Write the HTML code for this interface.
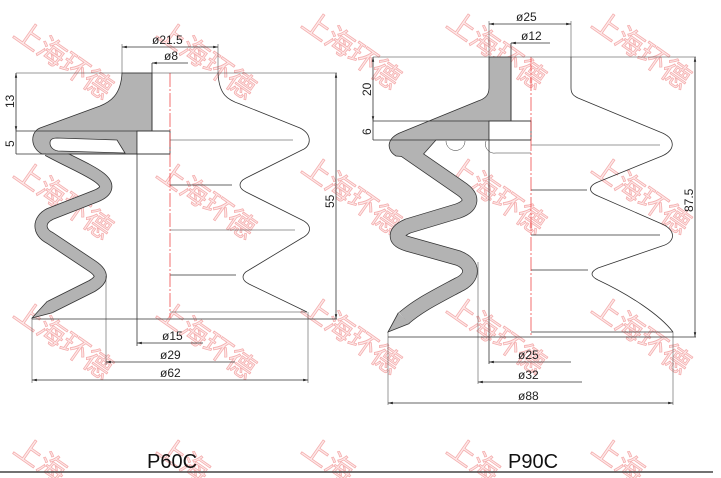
<!DOCTYPE html>
<html><head><meta charset="utf-8"><style>
html,body{margin:0;padding:0;background:#fff;width:721px;height:478px;overflow:hidden}
svg{display:block}
.d{stroke:#333;stroke-width:0.8;fill:none}
.t{font-family:"Liberation Sans",sans-serif;font-size:12px;fill:#222}
.w{font-family:"Liberation Sans","Noto Sans CJK SC",sans-serif;font-size:28px;fill:#fde6e6;stroke:#f3a0a0;stroke-width:0.8;opacity:0.85}
.wo{fill:none;stroke:#333;stroke-linejoin:round}
.wi{fill:none;stroke:#b3b3b3;stroke-linejoin:round}
</style></head><body>
<svg width="721" height="478" viewBox="0 0 721 478" xmlns="http://www.w3.org/2000/svg" overflow="hidden">
<defs>
<marker id="a" viewBox="0 0 6 6" refX="6" refY="3" markerWidth="6" markerHeight="6" orient="auto-start-reverse"><path d="M0,1.5 L6,3 L0,4.5z" fill="#222"/></marker>
</defs>

<g>
<text class="w" transform="translate(12,36) rotate(35)">上海环德</text>
<text class="w" transform="translate(155,36) rotate(35)">上海环德</text>
<text class="w" transform="translate(300,26) rotate(35)">上海环德</text>
<text class="w" transform="translate(445,26) rotate(35)">上海环德</text>
<text class="w" transform="translate(590,26) rotate(35)">上海环德</text>
<text class="w" transform="translate(12,176) rotate(35)">上海环德</text>
<text class="w" transform="translate(155,176) rotate(35)">上海环德</text>
<text class="w" transform="translate(300,171) rotate(35)">上海环德</text>
<text class="w" transform="translate(445,171) rotate(35)">上海环德</text>
<text class="w" transform="translate(590,171) rotate(35)">上海环德</text>
<text class="w" transform="translate(12,316) rotate(35)">上海环德</text>
<text class="w" transform="translate(155,316) rotate(35)">上海环德</text>
<text class="w" transform="translate(300,311) rotate(35)">上海环德</text>
<text class="w" transform="translate(445,311) rotate(35)">上海环德</text>
<text class="w" transform="translate(590,311) rotate(35)">上海环德</text>
<text class="w" transform="translate(12,452) rotate(35)">上海</text>
<text class="w" transform="translate(155,452) rotate(35)">上海</text>
<text class="w" transform="translate(300,452) rotate(35)">上海</text>
<text class="w" transform="translate(445,452) rotate(35)">上海</text>
<text class="w" transform="translate(590,452) rotate(35)">上海</text>
</g>

<!-- ================= P60C ================= -->
<path class="wo" stroke-width="13" d="M48,150 C70,162 90,170 100,178 C110,186 106,192 96,196 L50,214 C38,220 38,232 50,238 L92,266 C104,274 102,280 92,286 L50,307"/>
<path fill="#b3b3b3" stroke="#333" stroke-width="0.8" d="M122,73 C121,95 110,102 100,106 L40,128 C30,132 30,148 42,154 L137,154 L137,131 L152,131 L152,73 Z"/>
<path class="wi" stroke-width="11.4" d="M48,150 C70,162 90,170 100,178 C110,186 106,192 96,196 L50,214 C38,220 38,232 50,238 L92,266 C104,274 102,280 92,286 L50,307"/>
<path fill="#b3b3b3" stroke="none" d="M47.2,301.4 L32,318 L52.8,312.6 L51,306 Z"/>
<path class="d" d="M47.2,301.4 L32,318 L52.8,312.6"/>
<path fill="#fff" stroke="#333" stroke-width="0.8" d="M50,143 C50,139 53,138 57,138 L117,140 L125,153 L58,151 C53,150 50,147 50,143 Z"/>
<rect x="137" y="131" width="33" height="23" fill="#fff" stroke="#333" stroke-width="0.8"/>
<path class="d" d="M218,73 C219,95 228,100 240,104 L300,128 C312,134 312,146 302,150 L246,178 C238,182 238,188 246,192 L302,220 C312,225 312,233 302,238 L249,270 C241,274 241,280 249,284 L307,312"/>
<line class="d" x1="170" y1="140" x2="293" y2="140" style="stroke-width:0.5"/>
<line class="d" x1="170" y1="185" x2="232" y2="185"/>
<line class="d" x1="170" y1="230" x2="295" y2="230" style="stroke-width:0.5"/>
<line class="d" x1="170" y1="275" x2="236" y2="275"/>
<line class="d" x1="170" y1="312" x2="307" y2="312" style="stroke-width:0.5"/>
<line x1="170" y1="73" x2="170" y2="318" stroke="#e33" stroke-width="0.7" stroke-dasharray="14,2,2,2"/>
<line class="d" x1="16" y1="73" x2="337" y2="73" style="stroke-width:0.5"/>
<line class="d" x1="16" y1="131" x2="170" y2="131"/>
<line class="d" x1="16" y1="154" x2="170" y2="154"/>
<line class="d" x1="32" y1="319" x2="337" y2="319"/>
<line class="d" x1="122" y1="44" x2="122" y2="73" style="stroke-width:0.5"/>
<line class="d" x1="218" y1="44" x2="218" y2="73" style="stroke-width:0.5"/>
<line class="d" x1="152" y1="63" x2="152" y2="131"/>
<line class="d" x1="137" y1="154" x2="137" y2="346"/>
<line class="d" x1="106" y1="276" x2="106" y2="365" style="stroke-width:0.5"/>
<line class="d" x1="32" y1="319" x2="32" y2="383" style="stroke-width:0.5"/>
<line class="d" x1="308" y1="312" x2="308" y2="383" style="stroke-width:0.5"/>
<line class="d" x1="122" y1="47" x2="218" y2="47" marker-start="url(#a)" marker-end="url(#a)"/>
<text class="t" x="152" y="44">ø21.5</text>
<line class="d" x1="152" y1="63" x2="188" y2="63" marker-start="url(#a)"/>
<text class="t" x="164" y="60">ø8</text>
<line class="d" x1="16" y1="73" x2="16" y2="131" marker-start="url(#a)" marker-end="url(#a)"/>
<text class="t" transform="translate(14,108) rotate(-90)">13</text>
<line class="d" x1="16" y1="131" x2="16" y2="154"/>
<text class="t" transform="translate(14,147) rotate(-90)">5</text>
<line class="d" x1="336" y1="73" x2="336" y2="319" marker-start="url(#a)" marker-end="url(#a)"/>
<text class="t" transform="translate(334,208) rotate(-90)">55</text>
<line class="d" x1="137" y1="343" x2="203" y2="343" marker-start="url(#a)"/>
<text class="t" x="162" y="340">ø15</text>
<line class="d" x1="106" y1="362" x2="235" y2="362" marker-start="url(#a)"/>
<text class="t" x="160" y="359">ø29</text>
<line class="d" x1="32" y1="380" x2="308" y2="380" marker-start="url(#a)" marker-end="url(#a)"/>
<text class="t" x="160" y="377">ø62</text>

<!-- ================= P90C ================= -->
<path class="wo" stroke-width="15.5" d="M405,150 L460,188 C474,197 472,206 458,211 L408,226 C394,232 394,240 408,244 L458,258 C474,264 474,278 458,285 C430,300 418,306 404,318"/>
<path fill="#b3b3b3" stroke="#333" stroke-width="0.8" d="M489,57 L489,88 C489,96 484,99 478,101 L402,132 C386,138 386,150 396,156 L420,158 L436,140 L489,140 L489,121 L511,121 L511,57 Z"/>
<path class="wi" stroke-width="14" d="M405,150 L460,188 C474,197 472,206 458,211 L408,226 C394,232 394,240 408,244 L458,258 C474,264 474,278 458,285 C430,300 418,306 404,318"/>
<path fill="#b3b3b3" stroke="none" d="M398.5,312.5 L388,332 L409.5,323.5 L404,318 Z"/>
<path class="d" d="M398.5,312.5 L388,332 L409.5,323.5"/>
<rect x="489" y="121" width="42" height="19" fill="#fff" stroke="#333" stroke-width="0.8"/>
<path class="d" d="M446,141 A9,9 0 0 0 465,141 M486,141 A9,9 0 0 0 496,153 L531,153" style="stroke-width:0.5"/>
<path class="d" d="M571,57 L571,88 C571,94 574,96 578,98 L660,132 C676,138 676,150 662,156 L598,182 C588,186 588,192 598,196 L662,224 C676,230 676,242 662,246 L598,268 C590,272 590,276 598,280 C630,295 660,315 673,332"/>
<line class="d" x1="531" y1="145" x2="660" y2="145" style="stroke-width:0.5"/>
<line class="d" x1="531" y1="190" x2="587" y2="190"/>
<line class="d" x1="531" y1="235" x2="660" y2="235"/>
<line class="d" x1="531" y1="270" x2="588" y2="270"/>
<line class="d" x1="531" y1="332" x2="673" y2="332"/>
<line x1="531" y1="57" x2="531" y2="337" stroke="#e33" stroke-width="0.7" stroke-dasharray="14,2,2,2"/>
<line class="d" x1="373" y1="57" x2="696" y2="57" style="stroke-width:0.5"/>
<line class="d" x1="373" y1="121" x2="531" y2="121"/>
<line class="d" x1="373" y1="140" x2="531" y2="140"/>
<line class="d" x1="388" y1="337" x2="696" y2="337"/>
<line class="d" x1="489" y1="21" x2="489" y2="57" style="stroke-width:0.5"/>
<line class="d" x1="571" y1="21" x2="571" y2="57" style="stroke-width:0.5"/>
<line class="d" x1="511" y1="43" x2="511" y2="121"/>
<line class="d" x1="489" y1="140" x2="489" y2="364"/>
<line class="d" x1="478" y1="262" x2="478" y2="384" style="stroke-width:0.5"/>
<line class="d" x1="388" y1="332" x2="388" y2="405" style="stroke-width:0.5"/>
<line class="d" x1="673" y1="332" x2="673" y2="405" style="stroke-width:0.5"/>
<line class="d" x1="489" y1="24" x2="571" y2="24" marker-start="url(#a)" marker-end="url(#a)"/>
<text class="t" x="516" y="21">ø25</text>
<line class="d" x1="511" y1="43" x2="550" y2="43" marker-start="url(#a)"/>
<text class="t" x="521" y="40">ø12</text>
<line class="d" x1="373" y1="57" x2="373" y2="121" marker-start="url(#a)" marker-end="url(#a)"/>
<text class="t" transform="translate(371,96) rotate(-90)">20</text>
<line class="d" x1="373" y1="121" x2="373" y2="140"/>
<text class="t" transform="translate(371,135) rotate(-90)">6</text>
<line class="d" x1="695" y1="57" x2="695" y2="337" marker-start="url(#a)" marker-end="url(#a)"/>
<text class="t" transform="translate(693,212) rotate(-90)">87.5</text>
<line class="d" x1="489" y1="362" x2="571" y2="362" marker-start="url(#a)"/>
<text class="t" x="518" y="359">ø25</text>
<line class="d" x1="478" y1="382" x2="582" y2="382" marker-start="url(#a)"/>
<text class="t" x="518" y="379">ø32</text>
<line class="d" x1="388" y1="403" x2="673" y2="403" marker-start="url(#a)" marker-end="url(#a)"/>
<text class="t" x="518" y="400">ø88</text>

<text x="147" y="468" style="font-family:'Liberation Sans',sans-serif;font-size:20px;fill:#111">P60C</text>
<text x="508" y="468" style="font-family:'Liberation Sans',sans-serif;font-size:20px;fill:#111">P90C</text>
<line x1="0" y1="472" x2="713" y2="472" stroke="#444" stroke-width="1.6"/>
</svg>
</body></html>
